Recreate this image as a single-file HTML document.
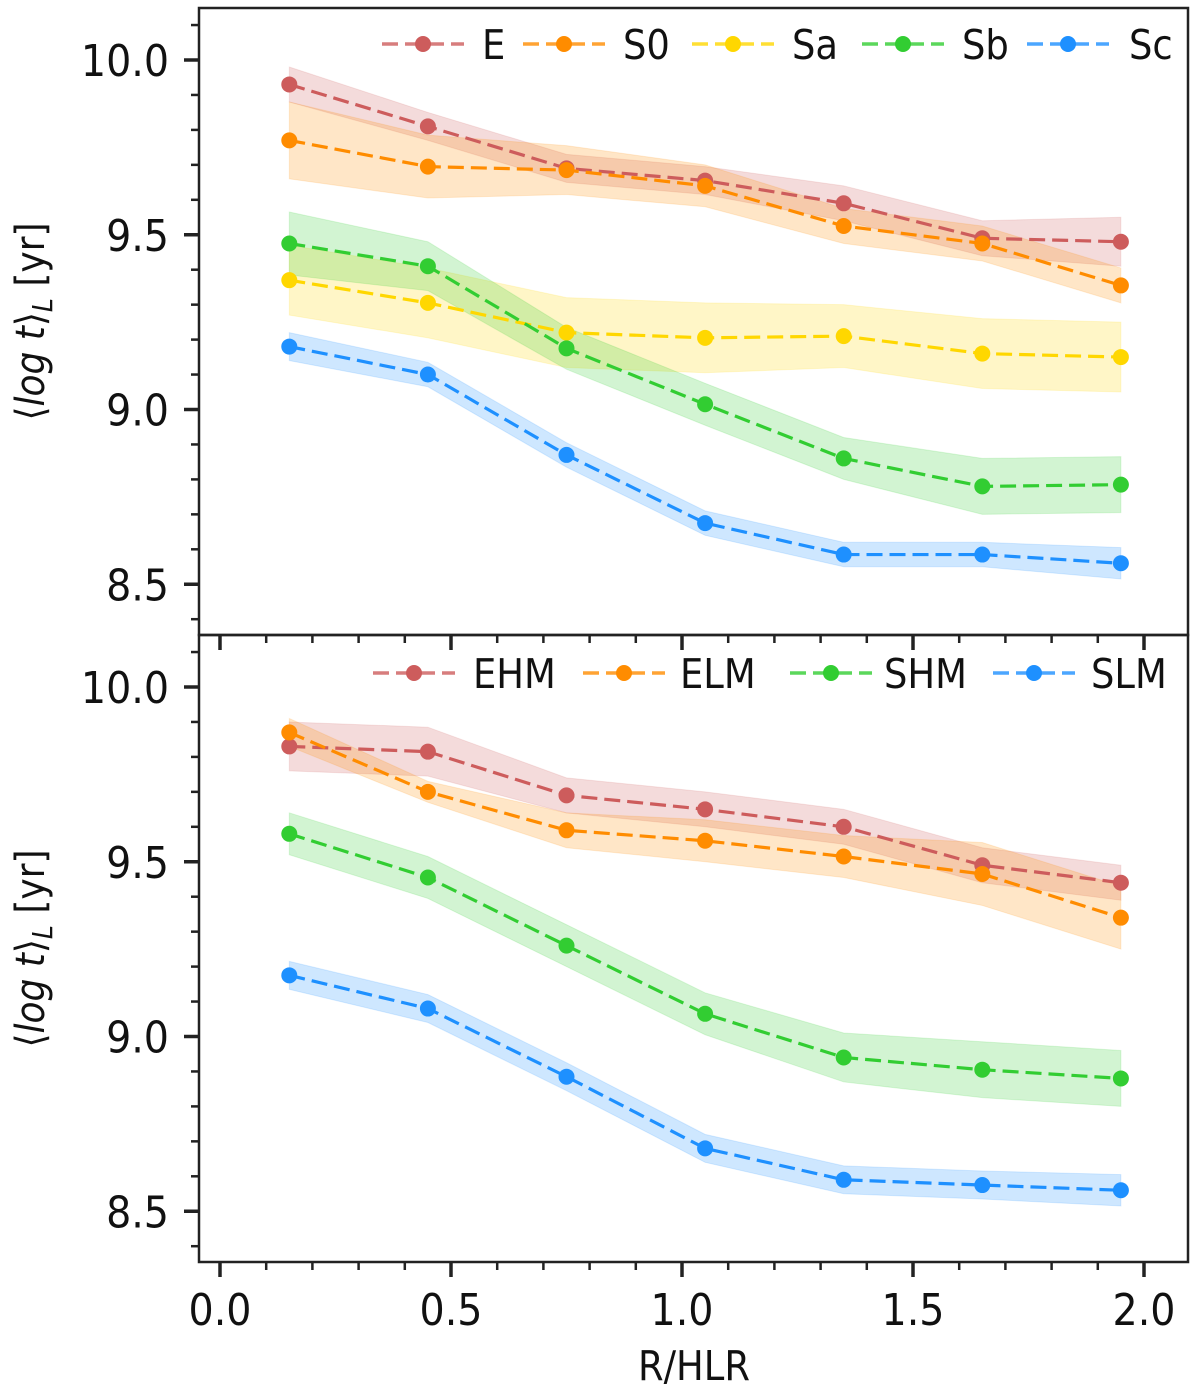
<!DOCTYPE html>
<html><head><meta charset="utf-8"><style>
html,body{margin:0;padding:0;background:#fff;}
svg{display:block;font-family:"DejaVu Sans Condensed","DejaVu Sans","Liberation Sans",sans-serif;}
</style></head><body>
<svg id="chart" width="1200" height="1391" viewBox="0 0 1200 1391" xmlns="http://www.w3.org/2000/svg"></svg>
<script>
const xValues = [0.15, 0.45, 0.75, 1.05, 1.35, 1.65, 1.95];
const xTicks = [0.0, 0.5, 1.0, 1.5, 2.0];
const yTicks = [8.5, 9.0, 9.5, 10.0];
const topNames = ["E", "S0", "Sa", "Sb", "Sc"];
const topE  = [9.93, 9.81, 9.69, 9.655, 9.59, 9.49, 9.48];
const topS0 = [9.77, 9.695, 9.685, 9.64, 9.525, 9.475, 9.355];
const topSa = [9.37, 9.305, 9.22, 9.205, 9.21, 9.16, 9.15];
const topSb = [9.475, 9.41, 9.175, 9.015, 8.86, 8.78, 8.785];
const topSc = [9.18, 9.10, 8.87, 8.675, 8.585, 8.585, 8.56];
const topEErr  = [0.05, 0.04, 0.04, 0.04, 0.05, 0.05, 0.07];
const topS0Err = [0.11, 0.09, 0.07, 0.06, 0.05, 0.05, 0.05];
const topSaErr = [0.1, 0.1, 0.1, 0.1, 0.09, 0.1, 0.1];
const topSbErr = [0.09, 0.07, 0.06, 0.06, 0.06, 0.08, 0.08];
const topScErr = [0.04, 0.035, 0.035, 0.035, 0.035, 0.035, 0.045];
const botNames = ["EHM", "ELM", "SHM", "SLM"];
const botEHM = [9.83, 9.815, 9.69, 9.65, 9.60, 9.49, 9.44];
const botELM = [9.87, 9.70, 9.59, 9.56, 9.515, 9.465, 9.34];
const botSHM = [9.58, 9.455, 9.26, 9.065, 8.94, 8.905, 8.88];
const botSLM = [9.175, 9.08, 8.885, 8.68, 8.59, 8.575, 8.56];
const botEHMErr = [0.07, 0.07, 0.05, 0.05, 0.05, 0.05, 0.05];
const botELMErr = [0.04, 0.03, 0.05, 0.06, 0.06, 0.09, 0.09];
const botSHMErr = [0.06, 0.06, 0.06, 0.06, 0.07, 0.08, 0.08];
const botSLMErr = [0.04, 0.04, 0.04, 0.04, 0.04, 0.04, 0.045];

const colors = ["#cd5c5c", "#ff8c00", "#ffd700", "#32cd32", "#1e90ff"];
const botColors = ["#cd5c5c", "#ff8c00", "#32cd32", "#1e90ff"];
const NS = "http://www.w3.org/2000/svg";
const svg = document.getElementById("chart");
function el(tag, attrs, parent) {
  const e = document.createElementNS(NS, tag);
  for (const k in attrs) e.setAttribute(k, attrs[k]);
  (parent || svg).appendChild(e);
  return e;
}
const L = 199, R = 1188;
const xScale = v => 220 + (v - 0) * 462;
const panels = [
  {top: 8, bot: 635, y10: 60, names: topNames, series: [topE, topS0, topSa, topSb, topSc], errs: [topEErr, topS0Err, topSaErr, topSbErr, topScErr], cols: colors,
   legend: [[382,482],[523,623],[692,792],[862,962],[1027,1129]], ly: 44, tag: "top"},
  {top: 635, bot: 1262, y10: 687, names: botNames, series: [botEHM, botELM, botSHM, botSLM], errs: [botEHMErr, botELMErr, botSHMErr, botSLMErr], cols: botColors,
   legend: [[373,473],[583,680],[790,884],[993,1091]], ly: 673, tag: "bottom"}
];
panels.forEach(p => {
  const yScale = v => p.y10 + (10 - v) * 349.5;
  const g = el("g", {});
  
  
  p.series.forEach((s, i) => {
    const e = p.errs[i];
    let d = "";
    xValues.forEach((x, j) => { d += (j ? "L" : "M") + xScale(x) + "," + yScale(s[j] + e[j]); });
    for (let j = xValues.length - 1; j >= 0; j--) d += "L" + xScale(xValues[j]) + "," + yScale(s[j] - e[j]);
    const b = el("path", {d: d + "Z", fill: p.cols[i], "fill-opacity": 0.22, stroke: p.cols[i], "stroke-opacity": 0.15}, g);
    
    
  });
  p.series.forEach((s, i) => {
    const pts = xValues.map((x, j) => xScale(x) + "," + yScale(s[j])).join(" ");
    const ln = el("polyline", {points: pts, fill: "none", stroke: p.cols[i], "stroke-width": 3.2, "stroke-dasharray": "16,7"}, g);
    
    
    xValues.forEach((x, j) => {
      const c = el("circle", {cx: xScale(x), cy: yScale(s[j]), r: 8, fill: p.cols[i]}, g);
      
      
    });
  });
  for (let k = 0; k <= 20; k++) {
    const v = 8.3 + k * 0.1;
    const y = yScale(v);
    if (y < p.top + 2 || y > p.bot - 2) continue;
    const major = Math.abs(v * 2 - Math.round(v * 2)) < 1e-6;
    el("line", {x1: L - (major ? 15 : 8), x2: L, y1: y, y2: y, stroke: "#222", "stroke-width": major ? 3.5 : 2.5}, g);
  }
  yTicks.forEach(v => {
    const t = el("text", {x: 169, y: yScale(v) + 16, "text-anchor": "end", "font-size": 44, fill: "#111"}, g);
    t.textContent = v.toFixed(1);
    
    
  });
  const yl = el("text", {transform: "translate(44," + ((p.top + p.bot) / 2) + ") rotate(-90)", "text-anchor": "middle", "font-size": 40, fill: "#111"}, g);
  yl.innerHTML = '⟨<tspan font-style="italic">log t</tspan>⟩<tspan font-style="italic" font-size="28" dy="8">L</tspan><tspan dy="-8"> [yr]</tspan>';
  
  
  p.names.forEach((n, i) => {
    const [lx, tx] = p.legend[i];
    const lg = el("g", {}, g);
    
    
    el("line", {x1: lx, x2: lx + 82, y1: p.ly, y2: p.ly, stroke: p.cols[i], "stroke-width": 3.5, "stroke-dasharray": "16,7", "stroke-opacity": 0.8}, lg);
    el("circle", {cx: lx + 41, cy: p.ly, r: 8, fill: p.cols[i]}, lg);
    const t = el("text", {x: tx, y: p.ly + 15, "font-size": 41, fill: "#111"}, lg);
    t.textContent = n;
  });
});
[[8, 635], [635, 1262]].forEach(([t, b]) => {
  const r = el("rect", {x: L, y: t, width: R - L, height: b - t, fill: "none", stroke: "#222", "stroke-width": 2.5});
  
  
});
for (let k = 0; k <= 20; k++) {
  const v = k * 0.1, x = xScale(v);
  const major = k % 5 === 0;
  [635, 1262].forEach(yb => el("line", {x1: x, x2: x, y1: yb, y2: yb + (major ? 15 : 8), stroke: "#222", "stroke-width": major ? 3.5 : 2.5}));
}
xTicks.forEach(v => {
  const t = el("text", {x: xScale(v), y: 1325, "text-anchor": "middle", "font-size": 44, fill: "#111"});
  t.textContent = v.toFixed(1);
  
  
});
const xl = el("text", {x: 694, y: 1380, "text-anchor": "middle", "font-size": 41, fill: "#111"});
xl.textContent = "R/HLR";


</script>
</body></html>
